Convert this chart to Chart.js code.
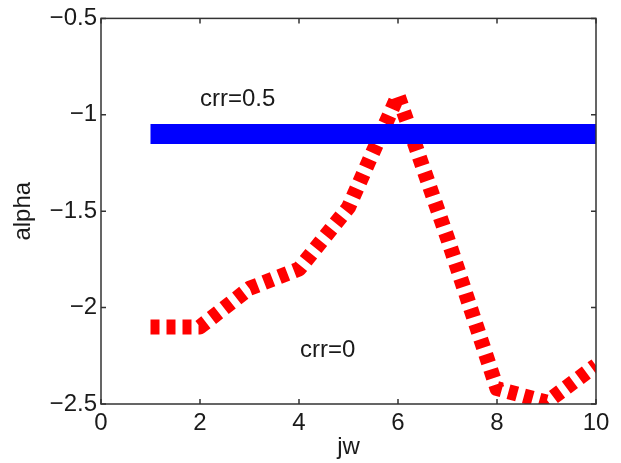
<!DOCTYPE html>
<html>
<head>
<meta charset="utf-8">
<script src="https://cdn.jsdelivr.net/npm/chart.js@4/dist/chart.umd.min.js"></script>
<style>
  html, body { margin: 0; padding: 0; background: #fff; }
  #wrap { width: 621px; height: 463px; }
</style>
</head>
<body>
<div id="wrap"><canvas id="c" width="621" height="463"></canvas></div>
<script>
// jw index values
const jw = [1, 2, 3, 4, 5, 6, 7, 8, 9, 10];
// alpha for crr = 0.5 (flat) and crr = 0
const alphaCrr05 = [-1.1, -1.1, -1.1, -1.1, -1.1, -1.1, -1.1, -1.1, -1.1, -1.1];
const alphaCrr0 = [-2.1, -2.1, -1.9, -1.8, -1.48, -0.9, -1.64, -2.42, -2.49, -2.3];
// axis ticks
const xTicks = [0, 2, 4, 6, 8, 10];
const yTicks = [-2.5, -2, -1.5, -1, -0.5];
// text labels placed in data units
const notes = [
  { text: 'crr=0.5', x: 2.0, y: -0.92 },
  { text: 'crr=0', x: 4.02, y: -2.22 }
];

const FONT = "'Liberation Sans', Arial, Helvetica, sans-serif";
const FS = 24;
const INK = '#1a1a1a';

const fmt = v => (v < 0 ? '\u2212' : '') + String(Math.abs(v));

// Box around the plot with inward ticks on all four sides, plus text notes
const frame = {
  id: 'frame',
  afterDatasetsDraw(chart) {
    const { ctx, chartArea: a, scales: { x, y } } = chart;
    ctx.save();
    ctx.strokeStyle = '#333';
    ctx.lineWidth = 1.5;
    ctx.strokeRect(a.left, a.top, a.right - a.left, a.bottom - a.top);
    const tl = 5;
    ctx.beginPath();
    xTicks.forEach(v => {
      const px = x.getPixelForValue(v);
      ctx.moveTo(px, a.bottom); ctx.lineTo(px, a.bottom - tl);
      ctx.moveTo(px, a.top); ctx.lineTo(px, a.top + tl);
    });
    yTicks.forEach(v => {
      const py = y.getPixelForValue(v);
      ctx.moveTo(a.left, py); ctx.lineTo(a.left + tl, py);
      ctx.moveTo(a.right, py); ctx.lineTo(a.right - tl, py);
    });
    ctx.stroke();
    ctx.fillStyle = INK;
    ctx.font = FS + 'px ' + FONT;
    ctx.textAlign = 'left';
    ctx.textBaseline = 'middle';
    notes.forEach(n => ctx.fillText(n.text, x.getPixelForValue(n.x), y.getPixelForValue(n.y)));
    ctx.restore();
  }
};

new Chart(document.getElementById('c'), {
  type: 'line',
  data: {
    labels: jw,
    datasets: [
      {
        label: 'crr=0.5',
        data: jw.map((v, i) => ({ x: v, y: alphaCrr05[i] })),
        borderColor: '#0000ff',
        borderWidth: 20,
        borderCapStyle: 'butt',
        pointRadius: 0,
        tension: 0
      },
      {
        label: 'crr=0',
        data: jw.map((v, i) => ({ x: v, y: alphaCrr0[i] })),
        borderColor: '#ff0000',
        borderWidth: 15,
        borderDash: [9, 7],
        borderCapStyle: 'butt',
        borderJoinStyle: 'round',
        pointRadius: 0,
        tension: 0
      }
    ]
  },
  options: {
    responsive: false,
    animation: false,
    layout: { padding: { left: 0, top: 15, right: 25, bottom: 0 } },
    plugins: { legend: { display: false }, tooltip: { enabled: false } },
    scales: {
      x: {
        type: 'linear',
        min: 0, max: 10,
        afterBuildTicks: s => { s.ticks = xTicks.map(v => ({ value: v })); },
        afterFit: s => { s.height = 59; },
        grid: { display: false, drawTicks: false },
        border: { display: false },
        ticks: { color: INK, font: { family: FONT, size: FS }, padding: 5, maxRotation: 0, callback: v => fmt(v) },
        title: { display: true, text: 'jw', color: INK, font: { family: FONT, size: FS }, padding: { top: 0, bottom: 1 } }
      },
      y: {
        type: 'linear',
        min: -2.5, max: -0.5,
        afterBuildTicks: s => { s.ticks = yTicks.map(v => ({ value: v })); },
        afterFit: s => { s.width = 101; },
        grid: { display: false, drawTicks: false },
        border: { display: false },
        ticks: { color: INK, font: { family: FONT, size: FS }, padding: 4, callback: v => fmt(v) },
        title: { display: true, text: 'alpha', color: INK, font: { family: FONT, size: FS }, padding: { top: 9, bottom: 0 } }
      }
    }
  },
  plugins: [frame]
});
</script>
</body>
</html>
